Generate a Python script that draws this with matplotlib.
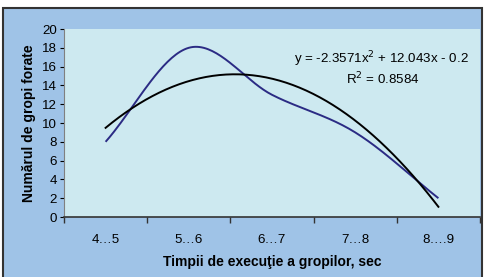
import numpy as np
import matplotlib
matplotlib.use("Agg")
import matplotlib.pyplot as plt
from matplotlib.patches import Rectangle

plt.rcParams['font.family'] = ['Liberation Sans', 'DejaVu Sans']

# data
categories = ["4…5", "5…6", "6…7", "7…8", "8….9"]
gropi = [8, 18, 13, 9, 2]
y_ticks = list(range(0, 21, 2))
eq_text = "y = -2.3571x$^2$ + 12.043x - 0.2"
r2_text = "R$^2$ = 0.8584"


def catmull_rom(xs, ys, n=40):
    # smooth line through points, like Excel's "smoothed line"
    px = np.concatenate([[2 * xs[0] - xs[1]], xs, [2 * xs[-1] - xs[-2]]])
    py = np.concatenate([[2 * ys[0] - ys[1]], ys, [2 * ys[-1] - ys[-2]]])
    out_x, out_y = [], []
    for i in range(1, len(px) - 2):
        t = np.linspace(0, 1, n)
        for arr, out in ((px, out_x), (py, out_y)):
            p0, p1, p2, p3 = arr[i - 1], arr[i], arr[i + 1], arr[i + 2]
            out.append(0.5 * ((2 * p1) + (-p0 + p2) * t
                              + (2 * p0 - 5 * p1 + 4 * p2 - p3) * t ** 2
                              + (-p0 + 3 * p1 - 3 * p2 + p3) * t ** 3))
    return np.concatenate(out_x), np.concatenate(out_y)


W, H = 485, 277
FS = 9.6
FS_LABEL = 10.0
fig = plt.figure(figsize=(W / 100, H / 100), dpi=100)
fig.patch.set_facecolor("white")

# outer chart frame, drawn in a background axes
bg = fig.add_axes([0, 0, 1, 1], zorder=-5)
bg.set_xlim(0, W)
bg.set_ylim(H, 0)
bg.axis("off")
bg.add_patch(Rectangle((3.5, 7.5), 479, H, facecolor="#9FC3E7",
                       edgecolor="#333333", linewidth=1.5))

ax = fig.add_axes([64 / W, 1 - 217 / H, 416 / W, 188 / H])
ax.set_facecolor("#CDE9F0")

x = np.arange(1, len(gropi) + 1)
sx, sy = catmull_rom(x.astype(float), np.array(gropi, dtype=float))
ax.plot(sx, sy, color="#2B2B84", linewidth=1.4, solid_capstyle="butt", zorder=3)

coef = np.polyfit(x, gropi, 2)
tx = np.linspace(1, len(gropi), 200)
ax.plot(tx, np.polyval(coef, tx), color="black", linewidth=1.4, zorder=4)

ax.set_xlim(0.5, len(gropi) + 0.5)
ax.set_ylim(0, 20)
ax.set_yticks(y_ticks)
ax.set_xticks(x)
ax.set_xticklabels(categories)
ax.set_xticks(np.arange(0.5, len(gropi) + 1), minor=True)
ax.tick_params(axis="x", which="major", length=0, pad=12, labelsize=FS)
ax.tick_params(axis="x", which="minor", length=4, width=1, color="#333333", direction="out")
ax.tick_params(axis="y", length=3, width=0.8, labelsize=FS, pad=2)

for s in ("top", "right"):
    ax.spines[s].set_visible(False)
ax.spines["left"].set_color("#808080")
ax.spines["left"].set_linewidth(0.8)
ax.spines["bottom"].set_color("#333333")
ax.spines["bottom"].set_linewidth(1.2)

ax.set_xlabel("Timpii de execuţie a gropilor, sec", fontsize=FS_LABEL,
              fontweight="bold", labelpad=7)
ax.set_ylabel("Numărul de gropi forate", fontsize=FS_LABEL, fontweight="bold", labelpad=4)

ax.text(0.764, 0.84, eq_text, transform=ax.transAxes, fontsize=FS,
        ha="center", va="center")
ax.text(0.766, 0.735, r2_text, transform=ax.transAxes, fontsize=FS,
        ha="center", va="center")

fig.savefig("out.png", dpi=100, facecolor=fig.get_facecolor())
